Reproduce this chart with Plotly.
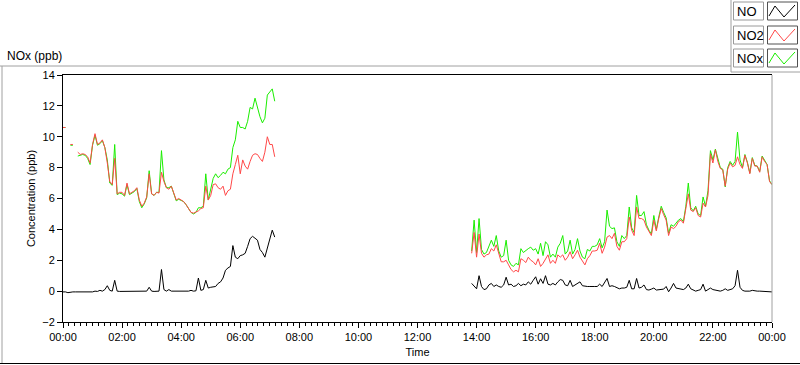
import pandas as pd
import plotly.graph_objects as go

# ---------------- data (5-minute samples) ----------------
am_start = "2024-01-01 00:00"
pm_start = "2024-01-01 13:50"

no_am = [-0.05, -0.05, -0.1, -0.05, -0.05, -0.05, -0.05, -0.02, -0.05, -0.03,
         -0.05, -0.02, -0.05, 0.0, -0.02, 0.05, 0.0, 0.1, 0.35, 0.05,
         0.0, 0.7, 0.0, -0.02, -0.02, -0.03, -0.02, -0.02, -0.02, -0.02,
         -0.02, -0.02, 0.0, -0.02, 0.0, 0.25, 0.0, -0.02, 0.0, 0.0,
         1.4, 0.1, 0.0, 0.1, 0.0, 0.0, 0.0, -0.02, 0.0, 0.02,
         0.0, 0.0, 0.05, 0.0, 0.02, 0.85, 0.05, 0.1, 0.7, 0.2,
         0.25, 0.3, 0.3, 0.5, 0.6, 0.85, 1.35, 1.5, 1.6, 2.95,
         2.2, 2.1, 2.3, 2.35, 2.45, 2.9, 3.4, 3.55, 3.4, 3.3,
         2.7, 2.5, 2.2, 2.85, 3.3, 3.95, 3.5]

no2_am = [10.6, 10.6, None, 9.5, 9.5, None, 9.0, 8.85, 8.9, 8.85,
          8.7, 8.3, 9.5, 10.2, 9.5, 9.6, 9.8, 9.3, 8.3, 7.1,
          6.9, 8.6, 6.3, 6.4, 6.4, 6.2, 7.0, 6.3, 6.4, 6.5,
          6.7, 5.9, 5.5, 5.7, 6.1, 7.6, 6.3, 6.2, 6.4, 6.35,
          7.7, 7.1, 6.7, 6.6, 6.8, 6.4, 5.9, 6.0, 5.9, 5.8,
          5.6, 5.35, 5.1, 5.05, 5.1, 5.2, 5.35, 5.4, 6.8, 5.9,
          6.2, 6.9, 6.95, 6.7, 6.6, 6.8, 6.2, 6.5, 6.6, 7.6,
          8.2, 8.8, 7.6, 8.5, 8.1, 7.9, 8.4, 8.8, 8.9, 8.85,
          8.6, 8.4, 9.0, 10.0, 9.5, 9.5, 8.7]

nox_am = [10.6, 10.6, None, 9.45, 9.45, None, 8.75, 8.8, 8.85, 8.8,
          8.6, 8.2, 9.45, 10.1, 9.45, 9.55, 9.75, 9.3, 8.5, 7.0,
          6.85, 9.5, 6.25, 6.35, 6.3, 6.15, 6.9, 6.25, 6.35, 6.45,
          6.65, 5.8, 5.4, 5.65, 6.05, 7.8, 6.3, 6.2, 6.4, 6.4,
          9.1, 7.2, 6.7, 6.7, 6.8, 6.35, 5.85, 5.95, 5.9, 5.8,
          5.6, 5.3, 5.1, 5.0, 5.1, 5.4, 5.4, 5.5, 7.6, 5.9,
          6.6, 7.3, 7.6, 7.35, 7.5, 7.7, 7.6, 7.9, 8.0, 9.3,
          9.8, 11.0, 10.6, 10.6, 10.5, 11.0, 11.9, 11.8, 12.5, 11.9,
          11.3, 10.9, 11.2, 12.7, 12.9, 13.1, 12.3]

no_pm = [0.5, 0.3, 0.15, 1.0, 0.3, 0.1, 0.15, 0.4, 0.5, 0.3,
         0.4, 0.3, 0.25, 0.4, 0.9, 0.4, 0.45, 0.3, 0.35, 0.5,
         0.35, 0.45, 0.4, 0.6, 0.45, 0.7, 0.93, 0.45, 0.8, 0.5,
         1.0, 0.45, 0.4, 0.5, 0.4, 0.6, 0.75, 0.7, 0.4, 0.35,
         0.7, 0.3, 0.4, 0.5, 0.6, 0.35, 0.3, 0.3, 0.3, 0.28,
         0.3, 0.3, 0.45, 0.3, 0.6, 0.82, 0.3, 0.35, 0.3, 0.25,
         0.15, 0.2, 0.2, 0.25, 0.7, 0.15, 0.15, 0.82, 0.2, 0.25,
         0.4, 0.1, 0.07, 0.13, 0.2, 0.07, 0.1, 0.13, 0.13, 0.3,
         -0.04, 0.2, 0.5, 0.2, 0.15, 0.1, 0.1, 0.2, 0.45, 0.15,
         0.05, 0.0, 0.05, 0.1, 0.45, 0.0, 0.1, 0.2, 0.1, 0.05,
         0.05, 0.0, 0.05, 0.15, 0.05, 0.1, 0.15, 0.35, 1.35, 0.25,
         0.05, 0.0, 0.0, 0.0, 0.05, 0.0, 0.0, 0.0, -0.02, -0.02,
         -0.03, -0.04, -0.05]

no2_pm = [2.45, 3.8, 2.2, 3.7, 2.45, 2.2, 2.35, 2.4, 2.75, 2.6,
          3.0, 2.35, 1.9, 1.9, 2.0, 1.7, 1.4, 1.25, 1.35, 1.25,
          2.1, 2.0, 1.85, 2.2, 2.0, 1.9, 1.7, 2.1, 1.6, 1.8,
          2.1, 2.35, 1.8, 2.0, 1.8, 2.35, 2.2, 2.35, 2.0, 2.2,
          2.55, 2.1, 2.35, 2.65, 2.2, 1.9, 1.7, 2.1, 2.3, 2.6,
          2.6, 2.65, 3.1, 2.45, 2.85, 3.5, 3.6, 3.4, 3.75, 2.9,
          2.65, 3.2, 3.2, 3.4, 4.8, 3.95, 3.6, 5.45, 4.7, 4.7,
          4.6, 4.15, 3.85, 3.6, 4.6, 3.9, 4.7, 5.35, 4.95, 4.6,
          3.6, 4.15, 4.05, 4.2, 4.5, 4.6, 4.4, 5.35, 6.3, 5.25,
          5.15, 5.4, 4.9, 4.8, 5.7, 5.45, 6.2, 8.9, 8.3, 9.15,
          8.4, 7.95, 7.85, 6.8, 7.9, 8.3, 8.05, 8.15, 8.7, 8.2,
          7.95, 8.8, 8.3, 7.6, 8.6, 8.1, 8.1, 7.7, 8.7, 8.4,
          8.2, 7.1, 6.9]

nox_pm = [2.6, 4.6, 2.5, 4.7, 2.7, 2.4, 2.5, 2.9, 3.3, 2.9,
          3.6, 2.6, 2.2, 2.3, 3.3, 2.0, 1.7, 1.6, 1.8, 1.7,
          2.75, 2.5, 2.65, 2.75, 2.85, 2.65, 2.75, 2.4, 3.1, 2.3,
          3.2, 3.0, 2.2, 2.4, 2.2, 2.85, 3.1, 3.6, 2.4, 2.6,
          3.3, 2.4, 2.7, 3.4, 2.6, 2.2, 2.1, 2.7, 2.6, 2.9,
          2.9, 3.0, 3.4, 2.8, 3.2, 5.25, 4.2, 4.05, 4.1, 3.2,
          2.9, 3.6, 3.4, 3.6, 5.45, 4.1, 3.8, 6.2, 4.9, 4.9,
          5.15, 4.3, 3.95, 3.7, 4.9, 4.0, 4.8, 5.5, 5.1, 4.75,
          3.75, 4.3, 4.2, 4.4, 4.6, 4.7, 4.5, 5.5, 7.0, 5.4,
          5.2, 5.5, 5.0, 4.9, 6.1, 5.5, 6.5, 9.1, 8.5, 9.2,
          8.5, 8.0, 7.9, 6.75, 8.0, 8.4, 8.15, 8.4, 10.3, 8.5,
          8.0, 8.85, 8.35, 7.65, 8.65, 8.15, 8.1, 7.75, 8.75, 8.45,
          8.2, 7.15, 6.9]

y_ticks = [-2, 0, 2, 4, 6, 8, 10, 12, 14]

# ---------------- build x/y with a gap between sessions ----------------
t_am = list(pd.date_range(am_start, periods=len(no_am), freq="5min"))
t_pm = list(pd.date_range(pm_start, periods=len(no_pm), freq="5min"))
x_all = t_am + [t_am[-1] + pd.Timedelta(minutes=5)] + t_pm


def join(a, b):
    return list(a) + [None] + list(b)


FONT = "Liberation Sans, Arial, sans-serif"
RED = "#ff4848"
GREEN = "#1aee00"

fig = go.Figure()
fig.add_trace(go.Scatter(x=x_all, y=join(nox_am, nox_pm), name="NOx", mode="lines",
                         line=dict(color=GREEN, width=1), connectgaps=False))
fig.add_trace(go.Scatter(x=x_all, y=join(no2_am, no2_pm), name="NO2", mode="lines",
                         line=dict(color=RED, width=1), connectgaps=False))
fig.add_trace(go.Scatter(x=x_all, y=join(no_am, no_pm), name="NO", mode="lines",
                         line=dict(color="black", width=1), connectgaps=False))

# pixel helpers for decorations (plot area: x 63..772, y 75..322)
L, R, T, B = 63, 772, 75, 322


def px(x):
    return (x - L) / (R - L)


def py(y):
    return (B - y) / (B - T)


shapes = []
# outer frame
shapes.append(dict(type="line", xref="paper", yref="paper", x0=px(0), x1=px(731), y0=py(66), y1=py(66),
                   line=dict(color="#a0a0a0", width=1)))
shapes.append(dict(type="line", xref="paper", yref="paper", x0=px(2), x1=px(2), y0=py(66), y1=py(364),
                   line=dict(color="#a0a0a0", width=1)))
shapes.append(dict(type="line", xref="paper", yref="paper", x0=px(0), x1=px(800), y0=py(363.5), y1=py(363.5),
                   line=dict(color="black", width=1)))
# right border of plot area (gray)
shapes.append(dict(type="line", xref="paper", yref="paper", x0=1, x1=1, y0=0, y1=1,
                   line=dict(color="#a0a0a0", width=1)))
# legend container
shapes.append(dict(type="line", xref="paper", yref="paper", x0=px(731), x1=px(731), y0=py(0), y1=py(72),
                   line=dict(color="#a0a0a0", width=1)))
shapes.append(dict(type="line", xref="paper", yref="paper", x0=px(731), x1=px(800), y0=py(72), y1=py(72),
                   line=dict(color="#a0a0a0", width=1)))

legend_items = [("NO", "black"), ("NO2", RED), ("NOx", GREEN)]
legend_tops = [2, 26, 49]
annotations = []
for (label, col), top in zip(legend_items, legend_tops):
    bot = top + 18
    shapes.append(dict(type="rect", xref="paper", yref="paper", x0=px(733.5), x1=px(763.5),
                       y0=py(bot), y1=py(top), line=dict(color="#9a9a9a", width=1), fillcolor="white"))
    shapes.append(dict(type="rect", xref="paper", yref="paper", x0=px(767.5), x1=px(797.5),
                       y0=py(bot), y1=py(top), line=dict(color="#505050", width=1), fillcolor="white"))
    pts = [(769, top + 14), (775, top + 4), (784, top + 15), (795, top + 3)]
    path = "M " + " L ".join(f"{px(a):.5f},{py(b):.5f}" for a, b in pts)
    shapes.append(dict(type="path", xref="paper", yref="paper", path=path,
                       line=dict(color=col, width=1)))
    annotations.append(dict(x=px(735), y=py(top + 9.5), xref="paper", yref="paper", text=label,
                            showarrow=False, xanchor="left", yanchor="middle",
                            font=dict(family=FONT, size=13, color="black")))

annotations.append(dict(x=px(5), y=py(56), xref="paper", yref="paper", text="NOx (ppb)",
                        showarrow=False, xanchor="left", yanchor="middle",
                        font=dict(family=FONT, size=12, color="black")))

fig.update_layout(
    width=800, height=365,
    margin=dict(l=L, r=800 - R, t=T, b=365 - B, autoexpand=False),
    paper_bgcolor="white", plot_bgcolor="white",
    showlegend=False,
    shapes=shapes, annotations=annotations,
    font=dict(family=FONT, size=11, color="black"),
)
fig.update_xaxes(
    type="date",
    range=["2024-01-01 00:00", "2024-01-02 00:00"],
    dtick=2 * 3600 * 1000, tick0="2024-01-01 00:00", tickformat="%H:%M",
    ticks="outside", ticklen=5, tickcolor="black",
    minor=dict(dtick=12 * 60 * 1000, ticks="outside", ticklen=3, tickcolor="black"),
    showline=True, linecolor="black", linewidth=1, mirror=True,
    showgrid=False, zeroline=False,
    tickfont=dict(family=FONT, size=11, color="black"),
    title=dict(text="Time", standoff=6, font=dict(family=FONT, size=11, color="black")),
)
fig.update_yaxes(
    range=[-2, 14], tickvals=y_ticks,
    ticks="outside", ticklen=5, tickcolor="black",
    showline=True, linecolor="black", linewidth=1,
    showgrid=False, zeroline=False,
    tickfont=dict(family=FONT, size=11, color="black"),
    title=dict(text="Concentration (ppb)", standoff=4, font=dict(family=FONT, size=11, color="black")),
)

fig.write_html("out.html", config={"displayModeBar": False},
               post_script="document.body.style.margin='0';document.body.style.padding='0';")
